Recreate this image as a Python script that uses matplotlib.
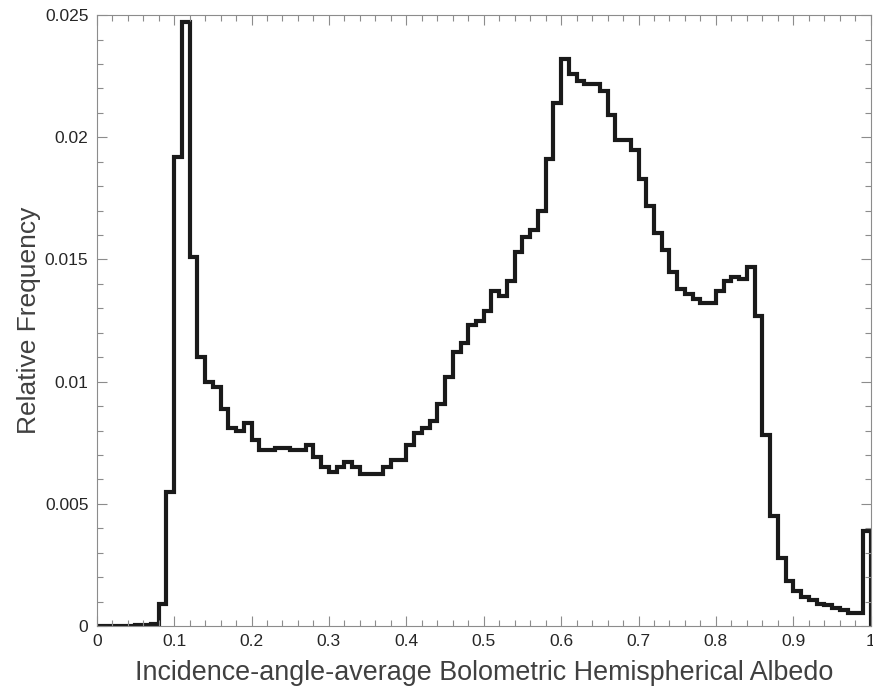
# albedo histogram - step outline of relative frequency per 0.01 bin
import numpy as np
import matplotlib.pyplot as plt

plt.rcParams['font.family'] = ['Liberation Sans', 'DejaVu Sans']

# bin edges 0..1 in steps of 0.01
edges = np.linspace(0, 1, 101)

# relative frequency, 10 bins per row
freq_00 = [0.00002, 0.00002, 0.00002, 0.00002, 0.00002, 0.00004, 0.00005, 0.0001, 0.00092, 0.0055]
freq_10 = [0.0192, 0.0247, 0.0151, 0.0110, 0.0100, 0.0098, 0.0089, 0.0081, 0.0080, 0.0083]
freq_20 = [0.0076, 0.0072, 0.0072, 0.0073, 0.0073, 0.0072, 0.0072, 0.0074, 0.0069, 0.0065]
freq_30 = [0.0063, 0.0065, 0.0067, 0.0065, 0.0062, 0.0062, 0.0062, 0.0065, 0.0068, 0.0068]
freq_40 = [0.0074, 0.0079, 0.0081, 0.0084, 0.0091, 0.0102, 0.0112, 0.0116, 0.0123, 0.0125]
freq_50 = [0.0129, 0.0137, 0.0135, 0.0141, 0.0153, 0.0159, 0.0162, 0.0170, 0.0191, 0.0214]
freq_60 = [0.0232, 0.0226, 0.0223, 0.0222, 0.0222, 0.0219, 0.0209, 0.0199, 0.0199, 0.0195]
freq_70 = [0.0183, 0.0172, 0.0161, 0.0154, 0.0145, 0.0138, 0.0136, 0.0134, 0.0132, 0.0132]
freq_80 = [0.0137, 0.0141, 0.0143, 0.0142, 0.0147, 0.0127, 0.0078, 0.0045, 0.0028, 0.00185]
freq_90 = [0.00143, 0.0012, 0.00106, 0.00092, 0.00084, 0.00072, 0.00064, 0.00055, 0.00055, 0.0039]

freq = np.array(freq_00 + freq_10 + freq_20 + freq_30 + freq_40
                + freq_50 + freq_60 + freq_70 + freq_80 + freq_90)

xticks = np.round(np.arange(0, 1.01, 0.1), 1)
xticklabels = ['0', '0.1', '0.2', '0.3', '0.4', '0.5', '0.6', '0.7', '0.8', '0.9', '1']
yticks = [0, 0.005, 0.01, 0.015, 0.02, 0.025]
yticklabels = ['0', '0.005', '0.01', '0.015', '0.02', '0.025']

fig = plt.figure(figsize=(8.73, 6.87), dpi=100)
ax = fig.add_axes([0.1108, 0.0888, 0.8866, 0.8892])

ax.stairs(freq, edges, baseline=0, color='#1a1a1a', linewidth=3.0,
          joinstyle='miter')

ax.set_xlim(0, 1)
ax.set_ylim(0, 0.025)
ax.set_xticks(xticks)
ax.set_xticklabels(xticklabels)
ax.set_yticks(yticks)
ax.set_yticklabels(yticklabels)
ax.set_xticks(np.arange(0, 1.001, 0.02), minor=True)
ax.set_yticks(np.arange(0, 0.02501, 0.001), minor=True)

axis_grey = '#8c8c8c'
for s in ax.spines.values():
    s.set_color(axis_grey)
    s.set_linewidth(0.8)
ax.tick_params(which='both', direction='in', top=True, right=True,
               color=axis_grey, labelcolor='#262626', labelsize=12.5, width=0.8)
ax.tick_params(which='major', length=7, pad=6)
ax.tick_params(which='minor', length=4)

ax.set_xlabel('Incidence-angle-average Bolometric Hemispherical Albedo',
              fontsize=19.4, color='#404040', labelpad=8)
ax.set_ylabel('Relative Frequency', fontsize=19, color='#404040', labelpad=3)

fig.savefig('out.png', dpi=100)
